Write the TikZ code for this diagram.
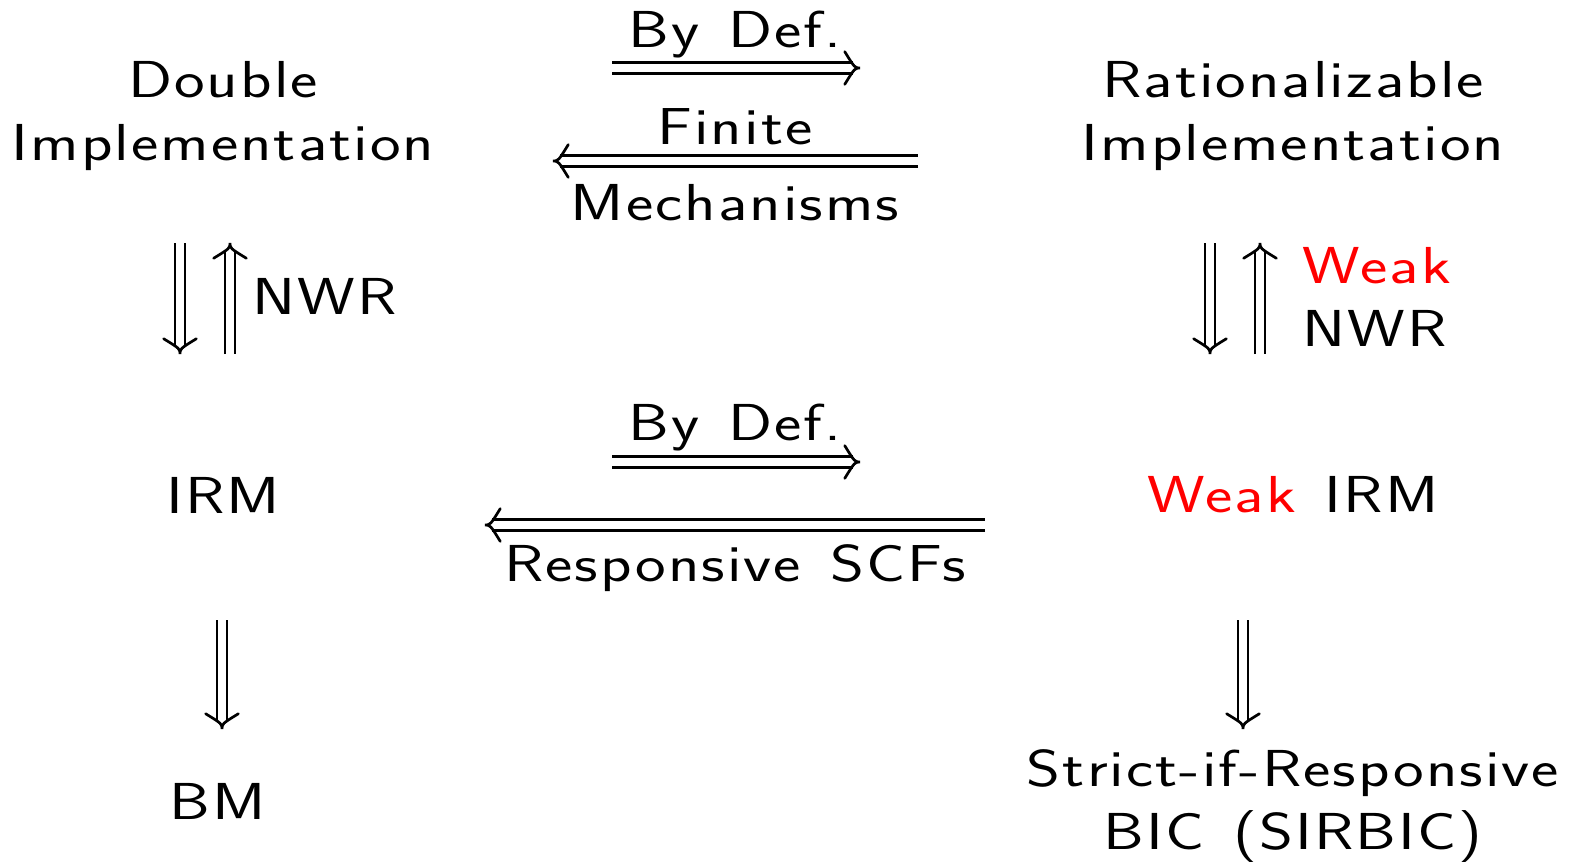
\documentclass[tikz,border=0pt]{standalone}
\usepackage{fontspec}
\setsansfont{Latin Modern Sans}[FakeStretch=1.25,LetterSpace=4,WordSpace=1.3]
\usetikzlibrary{calc}
\newcommand\dblar[3][]{%
  \draw[dblline,#1] (#2) -- ($(#3)!3.4pt!(#2)$);
  \draw[barb] ($(#3)!11.2pt!47:(#2)$) .. controls ($(#3)!2.6pt!(#2)$) .. (#3)
     .. controls ($(#3)!2.6pt!(#2)$) .. ($(#3)!11.2pt!-47:(#2)$);}
\begin{document}
\begin{tikzpicture}[x=0.5pt,y=-0.5pt,
  lbl/.style={font=\sffamily\fontsize{26}{31.5}\selectfont, inner sep=0pt, align=center},
  dblline/.style={double, double distance=4pt, line width=1.45pt},
  barb/.style={line width=1.35pt, line cap=round, line join=miter}]
\useasboundingbox (0,0) rectangle (1573,862);
% nodes
\node[lbl] (di) at (223,116) {Double\\Implementation};
\node[lbl] (ri) at (1293,116) {Rationalizable\\Implementation};
\node[lbl] (irm) at (223,495) {IRM};
\node[lbl] (wirm) at (1293,495) {\textcolor{red}{Weak} IRM};
\node[lbl] (bm) at (218,801) {BM};
\node[lbl] (sir) at (1293,806) {Strict-if-Responsive\\BIC (SIRBIC)};
% labels
\node[lbl] (bd1) at (735,35) {By Def.};
\node[lbl] (fin) at (735,127) {Finite};
\node[lbl] (mech) at (735,203) {Mechanisms};
\node[lbl,anchor=west] (nwr1) at (252,296) {NWR};
\node[lbl,anchor=west,align=left] (nwr2) at (1302,297) {\textcolor{red}{Weak}\\NWR};
\node[lbl] (bd2) at (735,428) {By Def.};
\node[lbl] (resp) at (735,568) {Responsive SCFs};
% coordinates
\coordinate (a1s) at (612,68); \coordinate (a1e) at (860,68);
\coordinate (a2s) at (918,161); \coordinate (a2e) at (553,161);
\coordinate (a3s) at (180,243); \coordinate (a3e) at (180,354);
\coordinate (a4s) at (230,354); \coordinate (a4e) at (230,243);
\coordinate (a5s) at (1210,243); \coordinate (a5e) at (1210,354);
\coordinate (a6s) at (1260,354); \coordinate (a6e) at (1260,243);
\coordinate (a7s) at (612,462); \coordinate (a7e) at (860,462);
\coordinate (a8s) at (985,525); \coordinate (a8e) at (485,525);
\coordinate (a9s) at (222,620); \coordinate (a9e) at (222,729);
\coordinate (a10s) at (1243,620); \coordinate (a10e) at (1243,729);
% arrows
\dblar{a1s}{a1e}
\dblar{a2s}{a2e}
\dblar[double distance=3.6pt,line width=1.3pt]{a3s}{a3e}
\dblar[double distance=3.6pt,line width=1.3pt]{a4s}{a4e}
\dblar[double distance=3.6pt,line width=1.3pt]{a5s}{a5e}
\dblar[double distance=3.6pt,line width=1.3pt]{a6s}{a6e}
\dblar{a7s}{a7e}
\dblar{a8s}{a8e}
\dblar[double distance=3.6pt,line width=1.3pt]{a9s}{a9e}
\dblar[double distance=3.6pt,line width=1.3pt]{a10s}{a10e}
\end{tikzpicture}
\end{document}
